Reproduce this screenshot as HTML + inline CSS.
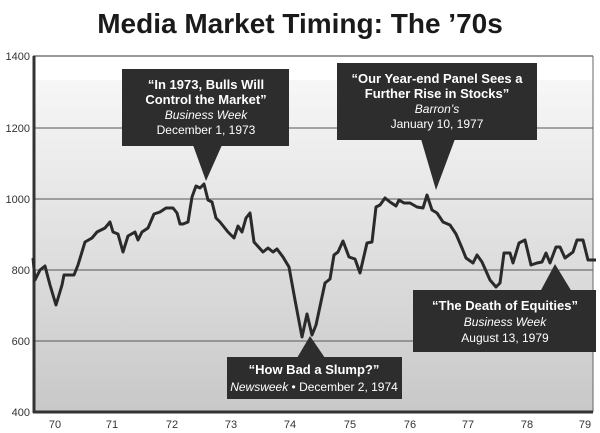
<!DOCTYPE html>
<html><head><meta charset="utf-8"><style>
body{margin:0;background:#fff;width:600px;height:433px;overflow:hidden}
svg{display:block}
</style></head><body>
<svg width="600" height="433" xmlns="http://www.w3.org/2000/svg" font-family="Liberation Sans, sans-serif">
<defs><linearGradient id="g" x1="0" y1="0" x2="0" y2="1">
<stop offset="0" stop-color="#f7f7f7"/><stop offset="1" stop-color="#c8c8c8"/></linearGradient></defs>
<text x="300" y="33" text-anchor="middle" font-size="28" font-weight="bold" fill="#1a1a1a">Media Market Timing: The ’70s</text>
<rect x="33" y="56" width="560" height="356" fill="#fff"/>
<rect x="33" y="80" width="560" height="332" fill="url(#g)"/>
<g stroke="#555" stroke-width="1">
<line x1="33" y1="56" x2="593" y2="56" stroke="#333"/>
<line x1="593" y1="56" x2="593" y2="412" stroke="#666"/>
<line x1="33" y1="128" x2="593" y2="128"/>
<line x1="33" y1="199" x2="593" y2="199"/>
<line x1="33" y1="270" x2="593" y2="270"/>
<line x1="33" y1="341" x2="593" y2="341"/>
</g>
<line x1="34" y1="56" x2="34" y2="413" stroke="#333" stroke-width="3"/>
<line x1="33" y1="412" x2="593" y2="412" stroke="#333" stroke-width="3"/>
<g font-size="11" fill="#333" text-anchor="end">
<text x="30" y="60">1400</text><text x="30" y="132">1200</text><text x="30" y="203">1000</text>
<text x="30" y="274">800</text><text x="30" y="345">600</text><text x="30" y="416">400</text>
</g>
<g font-size="11" fill="#333" text-anchor="middle">
<text x="55" y="428">70</text><text x="112" y="428">71</text><text x="172" y="428">72</text><text x="231" y="428">73</text><text x="290" y="428">74</text><text x="350" y="428">75</text><text x="410" y="428">76</text><text x="468" y="428">77</text><text x="527" y="428">78</text><text x="585" y="428">79</text>
</g>
<polyline fill="none" stroke="#2a2a2a" stroke-width="3" stroke-linejoin="round" points="33,258 35,280 40,270 45,266 50,285 56,305 62,285 64,275 74,275 78,265 85,242 92,238 97,232 105,228 110,222 113,232 118,234 123,252 128,236 135,232 138,240 142,232 148,228 154,214 160,212 166,208 173,208 177,213 180,224 183,224 188,222 192,197 196,186 200,188 204,184 208,200 212,202 216,218 220,222 228,232 234,238 238,226 242,232 246,218 250,213 254,242 263,252 268,248 273,252 277,249 283,257 289,267 295,300 302,337 307,314 312,335 316,325 325,283 330,279 334,255 338,252 343,241 349,257 355,259 360,273 367,243 372,242 376,207 380,205 385,198 390,202 396,206 399,200 404,203 410,203 417,207 423,208 427,195 432,210 437,213 443,222 450,225 456,234 462,248 466,258 473,263 477,255 482,262 490,280 496,287 500,283 504,253 510,253 513,263 519,243 525,240 531,265 537,263 542,262 546,253 550,263 556,247 560,247 565,258 573,252 577,240 583,240 588,260 596,260"/>
<g fill="#2d2d2d">
<rect x="122" y="69" width="167" height="77"/><polygon points="193,145 222,145 206,181"/>
<rect x="337" y="63" width="200" height="77"/><polygon points="421,139 455,139 436,190"/>
<rect x="227" y="357" width="175" height="42"/><polygon points="297,358 325,358 310,336"/>
<rect x="413" y="290" width="183" height="62"/><polygon points="540,292 572,292 555,264"/>
</g>
<g fill="#fff" text-anchor="middle" font-size="12">
<text x="206" y="89" font-weight="bold" font-size="13">“In 1973, Bulls Will</text>
<text x="206" y="104" font-weight="bold" font-size="13">Control the Market”</text>
<text x="206" y="119" font-style="italic">Business Week</text>
<text x="206" y="134">December 1, 1973</text>
<text x="437" y="83" font-weight="bold" font-size="13">“Our Year-end Panel Sees a</text>
<text x="437" y="98" font-weight="bold" font-size="13">Further Rise in Stocks”</text>
<text x="437" y="113" font-style="italic">Barron’s</text>
<text x="437" y="128">January 10, 1977</text>
<text x="314" y="374" font-weight="bold" font-size="13">“How Bad a Slump?”</text>
<text x="314" y="391"><tspan font-style="italic">Newsweek</tspan> • December 2, 1974</text>
<text x="505" y="310" font-weight="bold" font-size="13">“The Death of Equities”</text>
<text x="505" y="326" font-style="italic">Business Week</text>
<text x="505" y="342">August 13, 1979</text>
</g>
</svg>
</body></html>
